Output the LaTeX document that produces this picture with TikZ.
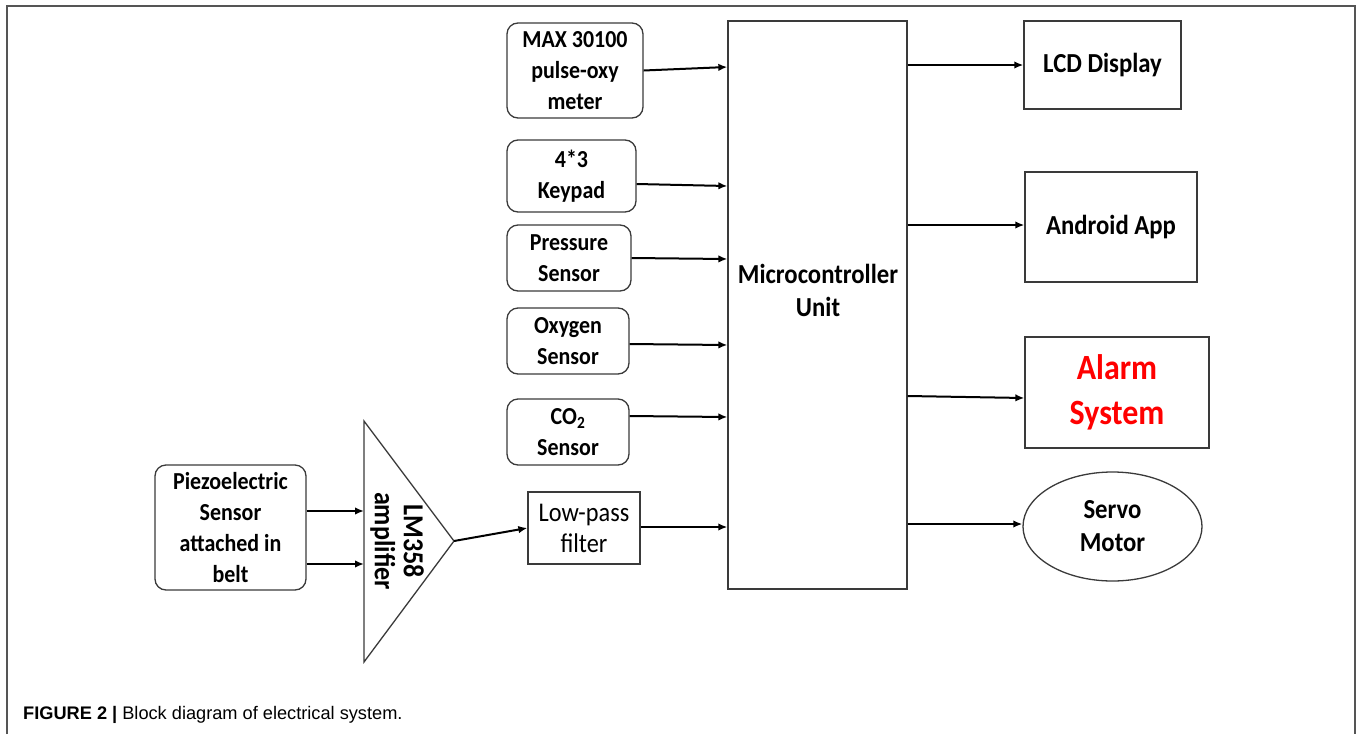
\documentclass[tikz,border=0pt]{standalone}
\usepackage{fontspec}
\setmainfont{Carlito}[FakeStretch=0.9]
\newfontfamily\capfont{Liberation Sans}
\usetikzlibrary{arrows.meta,shapes.geometric}
\definecolor{boxgray}{HTML}{3A3A3A}
\definecolor{framegray}{HTML}{555555}
\definecolor{alarmred}{HTML}{FF0000}
\tikzset{
  base/.style={draw=boxgray, line width=1.3pt, inner sep=0pt, align=center,
    font=\bfseries\fontsize{24.4}{31}\selectfont},
  rbox/.style={base, rounded corners=11pt},
  sbox/.style={base},
  arr/.style={-{Latex[length=9pt,width=7.5pt]}, line width=2pt, black},
}
\begin{document}
\begin{tikzpicture}[x=1pt,y=-1pt]
\useasboundingbox (0,0) rectangle (1362,734);
% frame
\draw[framegray, line width=1.5pt] (7,734) -- (7,6) -- (1355,6) -- (1355,734);

% input boxes
\node[rbox, minimum width=136pt, minimum height=95pt] (max) at (575,70.5) {MAX 30100\\pulse-oxy\\meter};
\node[rbox, minimum width=129pt, minimum height=72pt] (kp) at (571.5,176) {4*3\\Keypad};
\node[rbox, minimum width=124pt, minimum height=66pt] (pr) at (569,258) {Pressure\\Sensor};
\node[rbox, minimum width=122pt, minimum height=66pt] (ox) at (568,341) {Oxygen\\Sensor};
\node[rbox, minimum width=122pt, minimum height=66pt] (co) at (568,432) {CO\textsubscript{2}\\Sensor};
\node[sbox, minimum width=112pt, minimum height=72pt, font=\fontsize{27}{31}\selectfont] (lp) at (584,528) {Low-pass\\filter};
\node[rbox, minimum width=151pt, minimum height=125pt] (pz) at (230.5,527.5) {Piezoelectric\\Sensor\\attached in\\belt};

% amplifier triangle
\coordinate (tA) at (364,421);
\coordinate (tB) at (364,662);
\coordinate (tC) at (454,541);
\draw[draw=boxgray, line width=1.3pt, line join=miter] (tA) -- (tC) -- (tB) -- cycle;
\node[rotate=-90, align=center, inner sep=0pt, font=\bfseries\fontsize{29}{29}\selectfont] (amptext) at (397,541) {LM358\\amplifier};

% microcontroller
\node[sbox, minimum width=179pt, minimum height=568pt] (mcu) at (817.5,305) {};
\node[inner sep=0pt, align=center, font=\bfseries\fontsize{27.5}{33}\selectfont] (mcutext) at (818,290) {Microcontroller\\Unit};

% outputs
\node[sbox, minimum width=157pt, minimum height=88pt, font=\bfseries\fontsize{27.5}{31}\selectfont] (lcd) at (1102.5,65) {LCD Display};
\node[sbox, minimum width=172pt, minimum height=110pt, font=\bfseries\fontsize{27.5}{31}\selectfont] (andr) at (1111,227) {Android App};
\node[sbox, minimum width=184pt, minimum height=111pt, text=alarmred, font=\bfseries\fontsize{35.5}{45}\selectfont] (al) at (1117,392.5) {Alarm\\System};
\node[ellipse, draw=boxgray, line width=1.3pt, minimum width=179pt, minimum height=109pt, inner sep=0pt, align=center, font=\bfseries\fontsize{27.5}{33}\selectfont] (sv) at (1112.5,526.5) {Servo\\Motor};

% input arrows
\draw[arr] (max.east) -- (mcu.west |- 0,67);
\draw[arr] (kp.east |- 0,184) -- (mcu.west |- 0,186);
\draw[arr] (pr.east |- 0,258) -- (mcu.west |- 0,259);
\draw[arr] (ox.east |- 0,344) -- (mcu.west |- 0,345);
\draw[arr] (co.east |- 0,416) -- (mcu.west |- 0,417);
\draw[arr] (lp.east |- 0,527) -- (mcu.west |- 0,527);
\draw[arr] (pz.east |- 0,511) -- (tA |- 0,511);
\draw[arr] (pz.east |- 0,564) -- (tA |- 0,564);
\draw[arr] (tC) -- (lp.west |- 0,528);

% output arrows
\draw[arr] (mcu.east |- 0,65) -- (lcd.west |- 0,65);
\draw[arr] (mcu.east |- 0,225) -- (andr.west |- 0,225);
\draw[arr] (mcu.east |- 0,396) -- (al.west |- 0,398);
\draw[arr] (mcu.east |- 0,524) -- (sv.west |- 0,524);

% caption
\node[anchor=base west, inner sep=0pt, font=\capfont\fontsize{18.2}{20}\selectfont] (cap) at (23,719) {\textbf{FIGURE 2 |} Block diagram of electrical system.};
\end{tikzpicture}
\end{document}
